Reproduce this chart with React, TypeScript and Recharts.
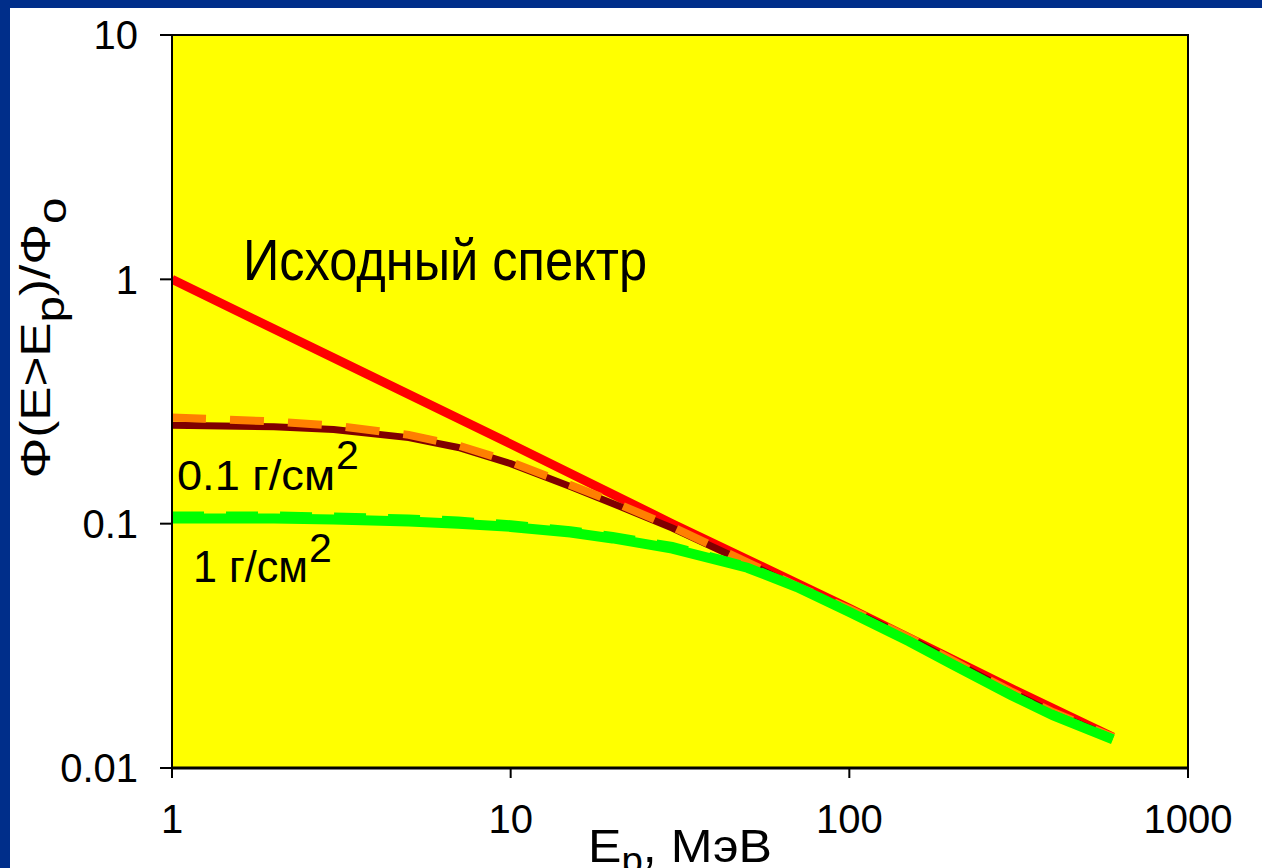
import { LineChart, Line, XAxis, YAxis, ReferenceArea } from 'recharts';

const energyTicks = [1, 10, 100, 1000];
const fluxTicks = [0.01, 0.1, 1, 10];

// исходный спектр
const sourceEnergy = [1, 3, 10, 30, 100, 300, 600];
const sourceFlux = [1.0, 0.477, 0.212, 0.1, 0.045, 0.0212, 0.0134];

// после защиты
const shieldEnergy = [1, 2, 3, 5, 7, 10, 15, 20, 30, 50, 70, 100, 150, 200, 300, 400, 600];
const thinSolidFlux = [0.253, 0.249, 0.243, 0.225, 0.205, 0.176, 0.142, 0.121, 0.096, 0.069, 0.055, 0.0445, 0.034, 0.0275, 0.0205, 0.0168, 0.0133];
const thinDashedFlux = [0.272, 0.262, 0.252, 0.231, 0.209, 0.179, 0.144, 0.123, 0.097, 0.0695, 0.0555, 0.0448, 0.0342, 0.0277, 0.0206, 0.0169, 0.0134];
const thickSolidFlux = [0.105, 0.105, 0.104, 0.102, 0.1, 0.097, 0.092, 0.087, 0.079, 0.066, 0.055, 0.0435, 0.033, 0.0267, 0.0199, 0.0164, 0.0131];
const thickDashedFlux = [0.108, 0.108, 0.107, 0.105, 0.103, 0.0995, 0.094, 0.089, 0.081, 0.067, 0.0555, 0.044, 0.0333, 0.0269, 0.0201, 0.0166, 0.0132];

const toRows = (xs: number[], ys: number[]) => xs.map((e, i) => ({ e, v: ys[i] }));

const FONT = '"Liberation Sans", Arial, sans-serif';

export default function App() {
  const tickStyle = { fontSize: 40, fill: '#000', fontFamily: FONT };

  return (
    <div style={{ position: 'absolute', left: 0, top: 0, width: 1262, height: 868, background: '#002e8a', overflow: 'hidden' }}>
      <div style={{ position: 'absolute', left: 10, top: 8, right: 0, bottom: 0, background: '#fff' }} />
      <div style={{ position: 'absolute', left: 0, top: 0 }}>
        <LineChart width={1262} height={868} margin={{ top: 35, right: 74, bottom: 0, left: 0 }}>
          <XAxis
            dataKey="e"
            type="number"
            scale="log"
            domain={[1, 1000]}
            ticks={energyTicks}
            interval={0}
            allowDataOverflow
            height={100}
            tick={tickStyle}
            tickSize={10}
            tickMargin={27}
            axisLine={{ stroke: '#000', strokeWidth: 3 }}
            tickLine={{ stroke: '#000', strokeWidth: 2 }}
          />
          <YAxis
            dataKey="v"
            type="number"
            scale="log"
            domain={[0.01, 10]}
            ticks={fluxTicks}
            interval={0}
            allowDataOverflow
            width={172}
            tick={tickStyle}
            tickSize={12}
            tickMargin={22}
            axisLine={{ stroke: '#000', strokeWidth: 2 }}
            tickLine={{ stroke: '#000', strokeWidth: 2 }}
          />
          <ReferenceArea x1={1} x2={1000} y1={0.01} y2={10} fill="#ffff00" fillOpacity={1} stroke="#000" strokeWidth={2} />
          <Line data={toRows(sourceEnergy, sourceFlux)} dataKey="v" stroke="#ff0000" strokeWidth={9} dot={false} isAnimationActive={false} />
          <Line data={toRows(shieldEnergy, thinSolidFlux)} dataKey="v" stroke="#800000" strokeWidth={7} dot={false} isAnimationActive={false} />
          <Line data={toRows(shieldEnergy, thinDashedFlux)} dataKey="v" stroke="#ff8000" strokeWidth={8} strokeDasharray="34 24" dot={false} isAnimationActive={false} />
          <Line data={toRows(shieldEnergy, thickSolidFlux)} dataKey="v" stroke="#00ff00" strokeWidth={10} dot={false} isAnimationActive={false} />
          <Line data={toRows(shieldEnergy, thickDashedFlux)} dataKey="v" stroke="#00ff00" strokeWidth={8} strokeDasharray="32 22" dot={false} isAnimationActive={false} />
        </LineChart>
      </div>
      <svg width={1262} height={868} style={{ position: 'absolute', left: 0, top: 0, pointerEvents: 'none' }} fontFamily={FONT} fill="#000">
        <text x={243} y={280} fontSize={57} textLength={404} lengthAdjust="spacingAndGlyphs">Исходный спектр</text>
        <text x={177} y={490} fontSize={43} textLength={158} lengthAdjust="spacingAndGlyphs">0.1 г/см</text>
        <text x={336} y={469} fontSize={41}>2</text>
        <text x={193} y={582} fontSize={45} textLength={115} lengthAdjust="spacingAndGlyphs">1 г/см</text>
        <text x={309} y={562} fontSize={41}>2</text>
        <text x={588} y={862} fontSize={47} textLength={184} lengthAdjust="spacingAndGlyphs">
          E<tspan dy={11} fontSize={36}>p</tspan><tspan dy={-11}>, МэВ</tspan>
        </text>
        <text transform="translate(50, 338) rotate(-90)" textAnchor="middle" fontSize={43} textLength={281} lengthAdjust="spacingAndGlyphs">
          Φ(E&gt;E<tspan dy={14} fontSize={40}>p</tspan><tspan dy={-14}>)/Φ</tspan><tspan dy={16} fontSize={40}>o</tspan>
        </text>
      </svg>
    </div>
  );
}
